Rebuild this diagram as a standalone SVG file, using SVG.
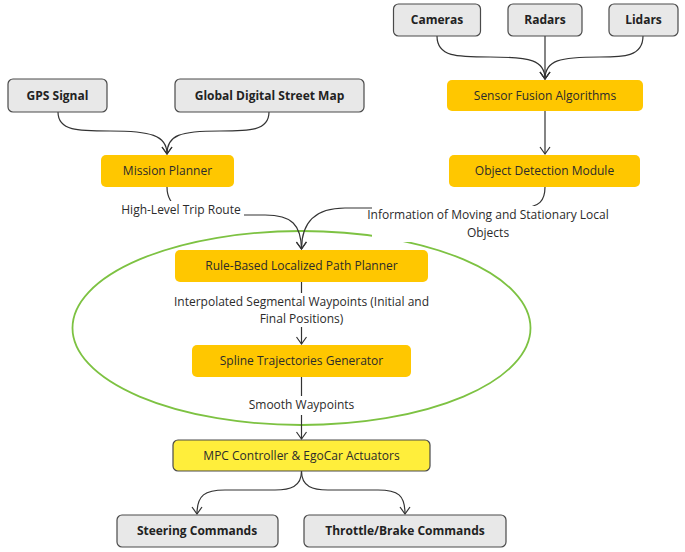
<svg xmlns="http://www.w3.org/2000/svg" width="685" height="552" viewBox="0 0 685 552">
<defs>
<style>
.bg{fill:#ffffff}
.gray rect{fill:#e8e8e8;stroke:#4a4a4a;stroke-width:1.2}
.orange rect{fill:#ffc700}
.yellow rect{fill:#ffee3b;stroke:#4a4a4a;stroke-width:1.2}
text{font-family:"Open Sans","Noto Sans","Liberation Sans",sans-serif;font-size:12px;fill:#2b2b2b;text-anchor:middle}
.gray text{font-weight:bold;fill:#222}
.conn path{fill:none;stroke:#333;stroke-width:1.2}
.lbl rect{fill:#ffffff}
</style>
<marker id="arr" markerUnits="userSpaceOnUse" markerWidth="12" markerHeight="12" viewBox="0 0 12 12" refX="9" refY="6" orient="auto">
<path d="M2,1 L9,6 L2,11" fill="none" stroke="#333" stroke-width="1.2"/>
</marker>
</defs>
<rect class="bg" x="0" y="0" width="685" height="552"/>
<ellipse id="group-ellipse" cx="301.5" cy="328" rx="229" ry="97" fill="none" stroke="#7dc242" stroke-width="1.8"/>
<g id="connectors" class="conn">
<path d="M437,36 C437,57 457,57 490,57 C530,57 545,60 545,79" marker-end="url(#arr)"/>
<path d="M545,36 L545,79" marker-end="url(#arr)"/>
<path d="M643,36 C643,57 623,57 600,57 C560,57 545,60 545,79" marker-end="url(#arr)"/>
<path d="M545,111 L545,154" marker-end="url(#arr)"/>
<path d="M58,112 C58,131 78,131 110,131 C150,131 167,135 167,154" marker-end="url(#arr)"/>
<path d="M269,112 C269,131 249,131 220,131 C180,131 167,135 167,154" marker-end="url(#arr)"/>
<path d="M167,187 C167,208 185,215 215,215 L265,215 C292,215 301,225 301.5,249" marker-end="url(#arr)"/>
<path d="M545,187 C545,200 540,208 520,208 L345,208 C315,208 301.5,222 301.5,249" marker-end="url(#arr)"/>
<path d="M301.5,282 L301.5,344" marker-end="url(#arr)"/>
<path d="M301.5,377 L301.5,439" marker-end="url(#arr)"/>
<path d="M301.5,471 C301.5,487 290,490 275,490 L225,490 C205,490 197,495 197,514" marker-end="url(#arr)"/>
<path d="M301.5,471 C301.5,487 313,490 328,490 L378,490 C398,490 405,495 405,514" marker-end="url(#arr)"/>
</g>
<g id="labels" class="lbl">
<g id="lbl-trip"><rect x="116" y="201" width="128" height="20"/><text x="181" y="214">High-Level Trip Route</text></g>
<g id="lbl-info"><rect x="372" y="206" width="234" height="36"/><text x="488" y="219">Information of Moving and Stationary Local</text><text x="488" y="236.5">Objects</text></g>
<g id="lbl-interp"><rect x="168" y="293" width="267" height="34"/><text x="301.5" y="305.5">Interpolated Segmental Waypoints (Initial and</text><text x="301.5" y="322.5">Final Positions)</text></g>
<g id="lbl-smooth"><rect x="244" y="396" width="115" height="19"/><text x="301.5" y="409">Smooth Waypoints</text></g>
</g>
<g id="cameras" class="gray"><rect x="393.5" y="4" width="87" height="32" rx="5"/><text x="437" y="24.3">Cameras</text></g>
<g id="radars" class="gray"><rect x="508" y="4" width="74" height="32" rx="5"/><text x="545" y="24.3">Radars</text></g>
<g id="lidars" class="gray"><rect x="609" y="4" width="69" height="32" rx="5"/><text x="643.5" y="24.3">Lidars</text></g>
<g id="sensor-fusion" class="orange"><rect x="447" y="80" width="196" height="31" rx="5"/><text x="545" y="99.8">Sensor Fusion Algorithms</text></g>
<g id="object-detection" class="orange"><rect x="449" y="155" width="191" height="32" rx="5"/><text x="544.5" y="175.3">Object Detection Module</text></g>
<g id="gps-signal" class="gray"><rect x="8" y="79" width="99" height="33" rx="5"/><text x="57.5" y="99.8">GPS Signal</text></g>
<g id="street-map" class="gray"><rect x="175" y="79" width="189" height="33" rx="5"/><text x="269.5" y="99.8">Global Digital Street Map</text></g>
<g id="mission-planner" class="orange"><rect x="101" y="155" width="133" height="32" rx="5"/><text x="167.5" y="175.3">Mission Planner</text></g>
<g id="path-planner" class="orange"><rect x="175" y="250" width="253" height="32" rx="5"/><text x="301.5" y="270.3">Rule-Based Localized Path Planner</text></g>
<g id="spline-generator" class="orange"><rect x="192" y="345" width="219" height="32" rx="5"/><text x="301.5" y="365.3">Spline Trajectories Generator</text></g>
<g id="mpc-controller" class="yellow"><rect x="173" y="440" width="257" height="31" rx="5"/><text x="301.5" y="459.8">MPC Controller &amp; EgoCar Actuators</text></g>
<g id="steering" class="gray"><rect x="117" y="515" width="161" height="32" rx="5"/><text x="197" y="535.3">Steering Commands</text></g>
<g id="throttle" class="gray"><rect x="304" y="515" width="202" height="32" rx="5"/><text x="405" y="535.3">Throttle/Brake Commands</text></g>
</svg>
